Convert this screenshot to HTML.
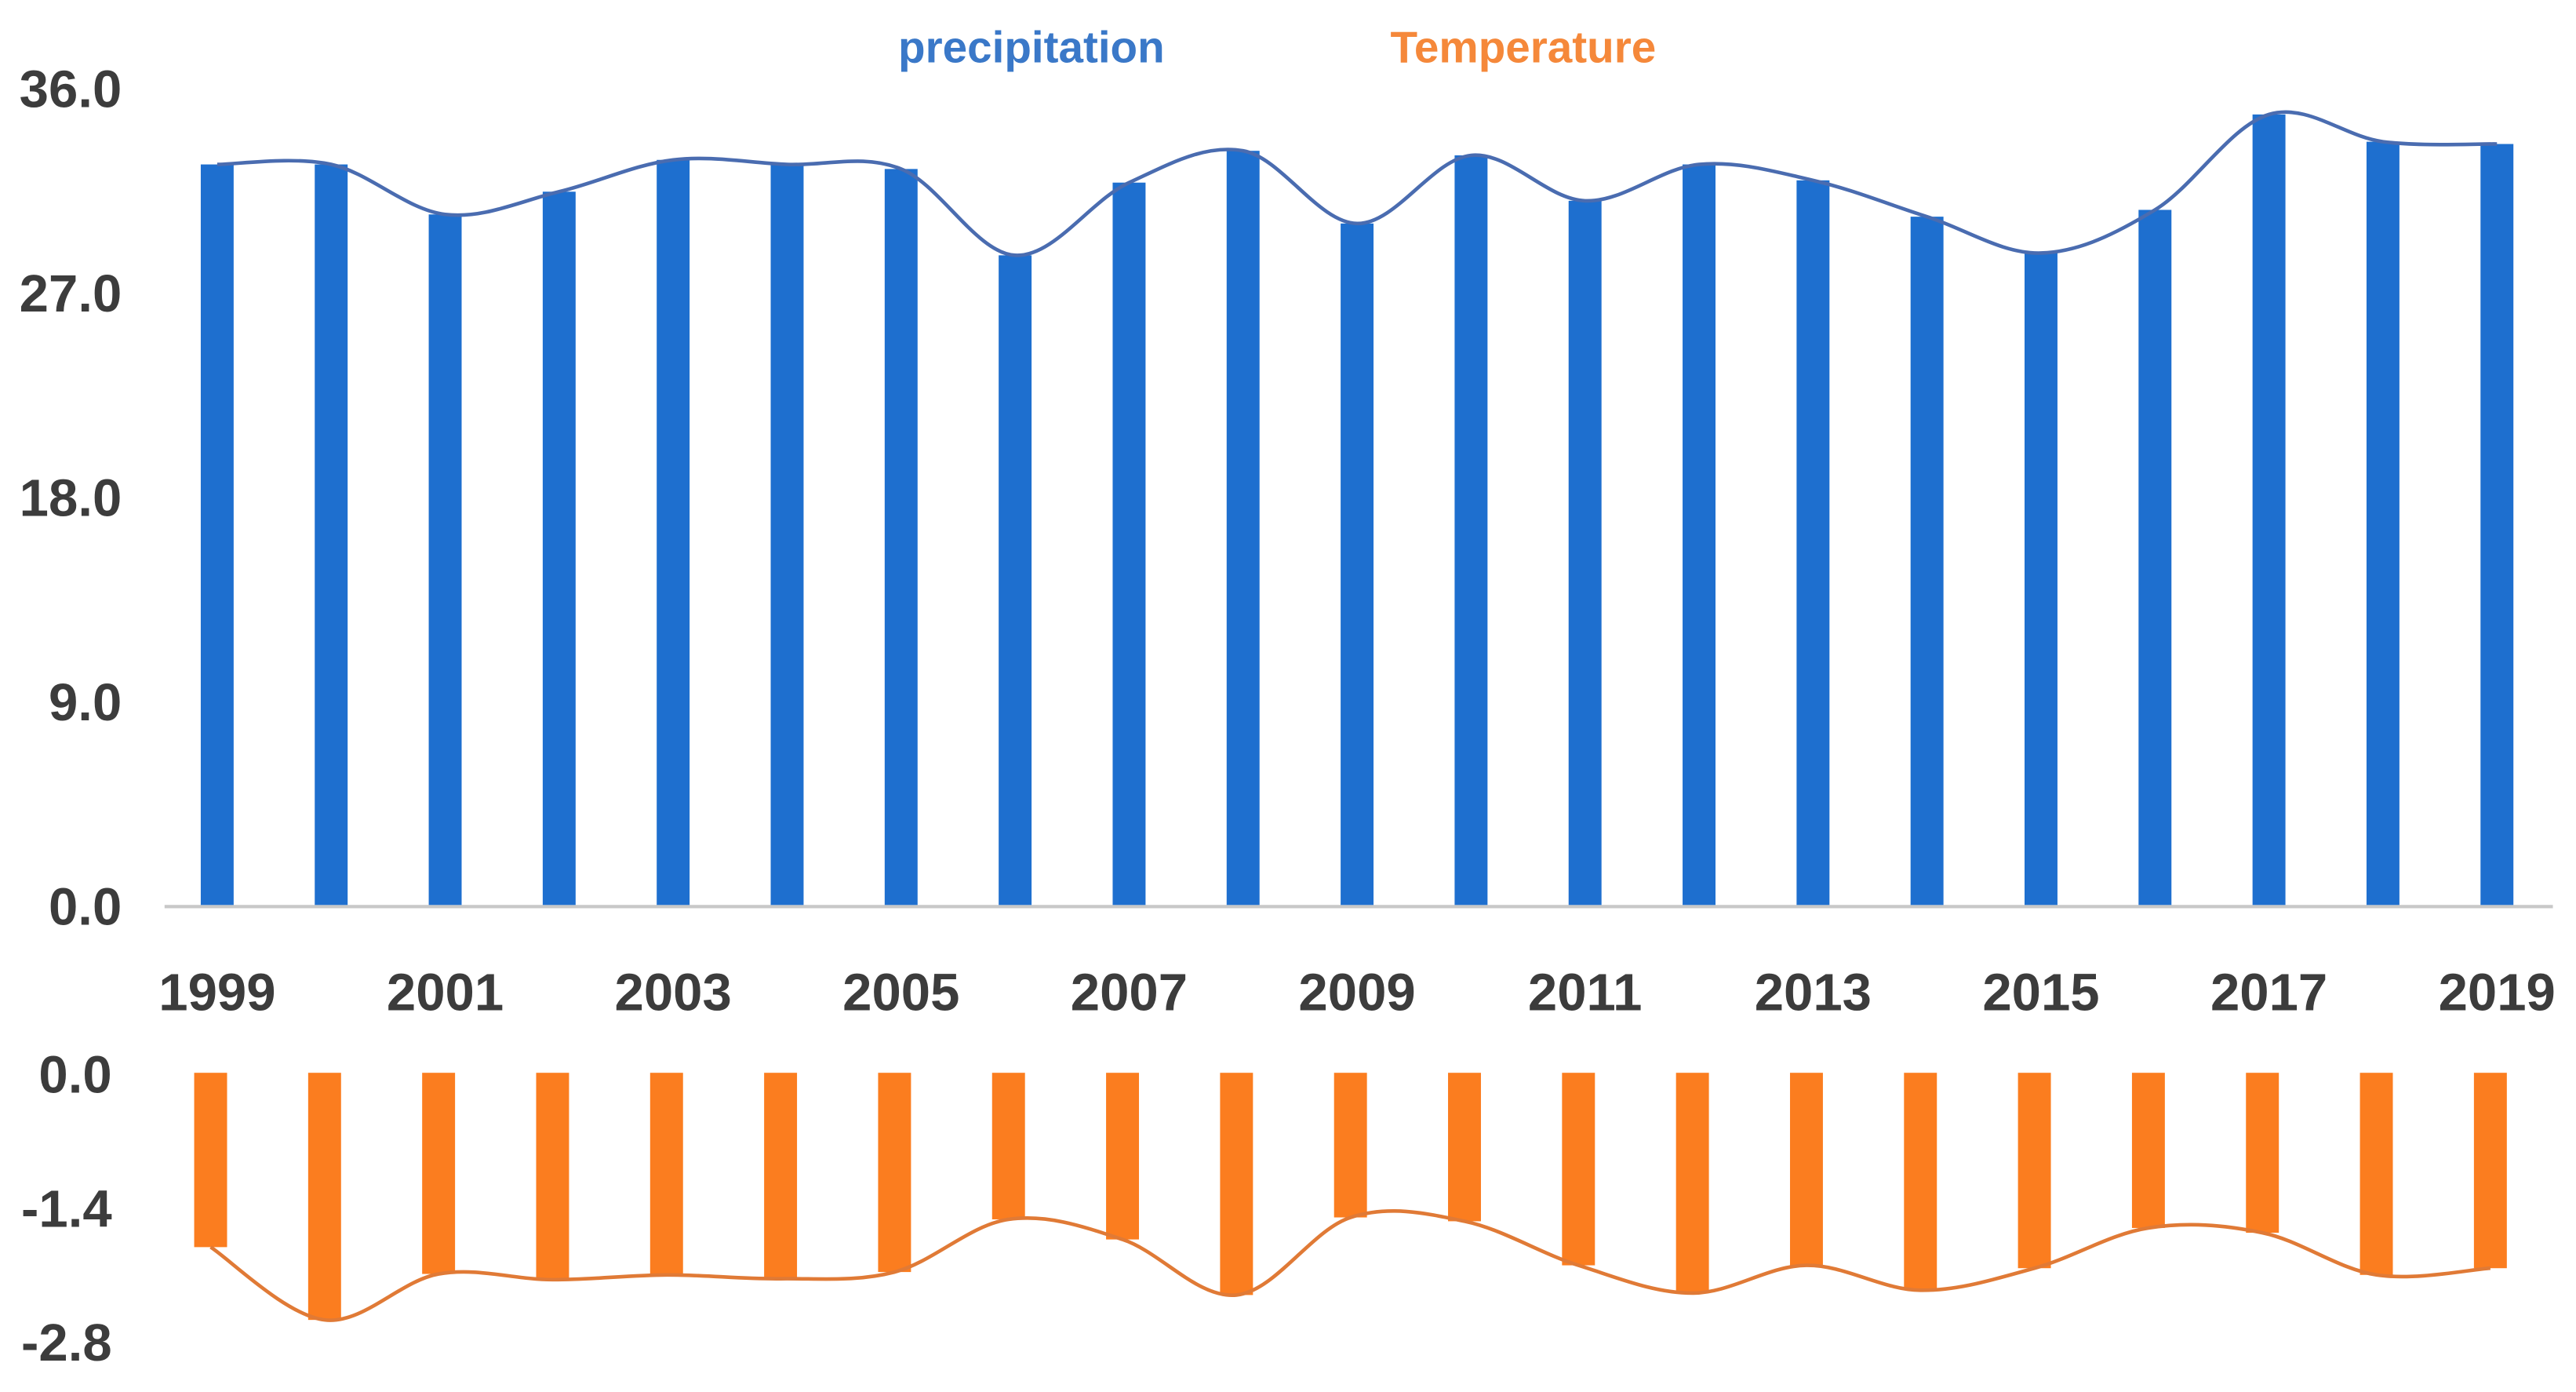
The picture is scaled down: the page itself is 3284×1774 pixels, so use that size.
<!DOCTYPE html>
<html><head><meta charset="utf-8"><style>
html,body{margin:0;padding:0;background:#fff;}
svg{display:block;}
text{font-family:"Liberation Sans",sans-serif;}
</style></head><body>
<svg id="chart" width="3284" height="1774" viewBox="0 0 1566 846" xmlns="http://www.w3.org/2000/svg">
<g id="legend">
<text x="627" y="38" text-anchor="middle" font-size="27" font-weight="bold" fill="#3a78c8">precipitation</text>
<text x="926" y="38" text-anchor="middle" font-size="27" font-weight="bold" fill="#f5883a">Temperature</text>
</g>
<g id="topPanel"></g>
<g id="bottomPanel"></g>
</svg>
<script>
const years = [1999,2000,2001,2002,2003,2004,2005,2006,2007,2008,2009,2010,2011,2012,2013,2014,2015,2016,2017,2018,2019];
const precipitation = [32.6,32.6,30.4,31.4,32.8,32.6,32.4,28.6,31.8,33.2,30.0,33.0,31.0,32.6,31.9,30.3,28.7,30.6,34.8,33.6,33.5];
const temperature = [-1.82,-2.58,-2.10,-2.16,-2.11,-2.15,-2.08,-1.53,-1.74,-2.32,-1.51,-1.55,-2.01,-2.30,-2.01,-2.27,-2.04,-1.62,-1.67,-2.11,-2.04];
const precipTicks = [0,9,18,27,36];
const tempTicks = [0,-1.4,-2.8];
const yearLabels = [1999,2001,2003,2005,2007,2009,2011,2013,2015,2017,2019];

const NS = "http://www.w3.org/2000/svg";
function mk(tag, attrs, parent){const e=document.createElementNS(NS,tag);for(const k in attrs)e.setAttribute(k,attrs[k]);parent.appendChild(e);return e;}
const xs = y => 132 + (y-1999)*(1518-132)/20;
const yTop = v => 550 - v*(497/36);
const yBot = v => 652 - v*(163/2.8);
const barW = 20;
function smooth(pts){
  let d = "M"+pts[0][0]+","+pts[0][1];
  for(let i=0;i<pts.length-1;i++){
    const p0=pts[Math.max(i-1,0)],p1=pts[i],p2=pts[i+1],p3=pts[Math.min(i+2,pts.length-1)];
    const t=0.17;
    d+=" C"+(p1[0]+(p2[0]-p0[0])*t)+","+(p1[1]+(p2[1]-p0[1])*t)+" "+(p2[0]-(p3[0]-p1[0])*t)+","+(p2[1]-(p3[1]-p1[1])*t)+" "+p2[0]+","+p2[1];
  }
  return d;
}
const topG = document.getElementById('topPanel');
const botG = document.getElementById('bottomPanel');
precipTicks.forEach(t=>{
  const e=mk('text',{x:74,y:yTop(t)+12,'text-anchor':'end','font-size':32,'font-weight':'bold',fill:'#3c3c3c'},topG);
  
  
  e.textContent=t.toFixed(1);
});
const base = mk('line',{x1:100,x2:1552,y1:551,y2:551,stroke:'#c8c8c8','stroke-width':2},topG);


years.forEach((yr,i)=>{
  const r=mk('rect',{x:xs(yr)-barW/2,y:yTop(precipitation[i]),width:barW,height:550-yTop(precipitation[i]),fill:'#1e6fcf'},topG);
  
  
});
const lp = mk('path',{d:smooth(years.map((yr,i)=>[xs(yr),yTop(precipitation[i])])),fill:'none',stroke:'#4a6cb0','stroke-width':2.2},topG);


yearLabels.forEach(yr=>{
  const e=mk('text',{x:xs(yr),y:614,'text-anchor':'middle','font-size':32,'font-weight':'bold',fill:'#3c3c3c'},topG);
  
  
  e.textContent=yr;
});
tempTicks.forEach(t=>{
  const e=mk('text',{x:68,y:yBot(t)+12,'text-anchor':'end','font-size':32,'font-weight':'bold',fill:'#3c3c3c'},botG);
  
  
  e.textContent=t.toFixed(1);
});
years.forEach((yr,i)=>{
  const r=mk('rect',{x:xs(yr)-barW/2-4,y:652,width:barW,height:yBot(temperature[i])-652,fill:'#fb7d1f'},botG);
  
  
});
const lt = mk('path',{d:smooth(years.map((yr,i)=>[xs(yr)-4,yBot(temperature[i])])),fill:'none',stroke:'#e07a36','stroke-width':2.2},botG);


</script>
</body></html>
